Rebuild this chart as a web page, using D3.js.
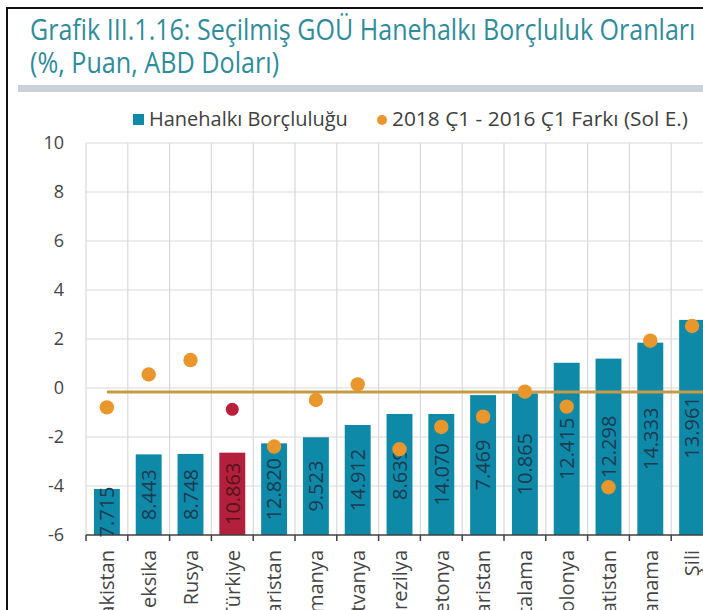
<!DOCTYPE html>
<html>
<head>
<meta charset="utf-8">
<script src="https://cdn.jsdelivr.net/npm/d3@7"></script>
<style>
  body { margin: 0; background: #fff; }
  svg { display: block; font-family: "Open Sans", sans-serif; }
</style>
</head>
<body>
<div id="chart"></div>
<script>
// Categories (country names, cut off at the bottom in the original)
const countries = ["Pakistan", "Meksika", "Rusya", "Türkiye", "Bulgaristan", "Romanya", "Litvanya",
    "Brezilya", "Letonya", "Macaristan", "Ortalama", "Polonya", "Hırvatistan", "Panama", "Şili"];

// Bar tops
const borcluluk = [-4.12, -2.71, -2.69, -2.64, -2.26, -2.01, -1.51, -1.06, -1.06, -0.29, -0.22, 1.03, 1.2, 1.85, 2.78];

// Labels written inside the bars
const barLabels = ["7.715", "8.443", "8.748", "10.863", "12.820", "9.523", "14.912", "8.639",
    "14.070", "7.469", "10.865", "12.415", "12.298", "14.333", "13.961"];

// 2018 Q1 - 2016 Q1 difference (dots)
const fark = [-0.79, 0.55, 1.14, -0.87, -2.39, -0.49, 0.15, -2.5, -1.59, -1.17, -0.15, -0.76, -4.05, 1.93, 2.53];

// Average line level
const ortalamaLine = -0.16;

const yTicks = [10, 8, 6, 4, 2, 0, -2, -4, -6];

const width = 703;
const height = 610;

const svg = d3.select("#chart").append("svg")
    .attr("width", width)
    .attr("height", height);

// fit a text to a given width by changing its font size
function fitText(sel, target) {
    const w = sel.node().getComputedTextLength();
    const fs = parseFloat(sel.style("font-size"));
    sel.style("font-size", (fs * target / w) + "px");
}

// frame lines
svg.append("line").attr("x1", 6).attr("x2", width).attr("y1", 8).attr("y2", 8)
    .attr("stroke", "#111").attr("stroke-width", 2);
svg.append("line").attr("x1", 7).attr("x2", 7).attr("y1", 8).attr("y2", height)
    .attr("stroke", "#111").attr("stroke-width", 2);

// title (the original picture is a bit stretched vertically)
const t1 = svg.append("text").attr("transform", "translate(30,40) scale(1,1.15)")
    .style("font-size", "22px").style("fill", "#2f8c9b")
    .text("Grafik III.1.16: Seçilmiş GOÜ Hanehalkı Borçluluk Oranları");
fitText(t1, 665);
const t2 = svg.append("text").attr("transform", "translate(30,73) scale(1,1.15)")
    .style("font-size", "22px").style("fill", "#2f8c9b")
    .text("(%, Puan, ABD Doları)");
fitText(t2, 249);

svg.append("rect").attr("x", 18).attr("y", 85).attr("width", width - 18).attr("height", 7)
    .style("fill", "#c9d0d7");

// scales
const x = d3.scaleBand()
    .domain(countries)
    .range([86, 713])
    .padding(0);

const y = d3.scaleLinear()
    .domain([-6, 10])
    .range([535, 143]);

const bw = x.bandwidth();

// gridlines
svg.append("g").selectAll("line")
    .data(yTicks.filter(d => d > -6))
    .enter().append("line")
    .attr("x1", 86).attr("x2", width)
    .attr("y1", d => y(d)).attr("y2", d => y(d))
    .attr("stroke", "#d9d9d9").attr("stroke-width", 1.2);

svg.append("g").selectAll("line")
    .data(countries)
    .enter().append("line")
    .attr("x1", d => x(d)).attr("x2", d => x(d))
    .attr("y1", y(10)).attr("y2", y(-6))
    .attr("stroke", "#d9d9d9").attr("stroke-width", 1.2);

// y tick labels
svg.append("g").selectAll("text")
    .data(yTicks)
    .enter().append("text")
    .attr("x", 64)
    .attr("y", d => y(d))
    .attr("dy", "0.36em")
    .attr("text-anchor", "end")
    .style("font-size", "18px")
    .style("fill", "#454545")
    .text(d => d);

// bars
svg.append("g").selectAll("rect")
    .data(countries)
    .enter().append("rect")
    .attr("x", d => x(d) + bw * 0.19)
    .attr("width", bw * 0.62)
    .attr("y", (d, i) => y(borcluluk[i]))
    .attr("height", (d, i) => y(-6) - y(borcluluk[i]))
    .style("fill", d => d === "Türkiye" ? "#b2203b" : "#0f89a8");

// labels inside bars
svg.append("g").selectAll("text")
    .data(countries)
    .enter().append("text")
    .attr("transform", (d, i) => "translate(" + (x(d) + bw / 2) + "," + ((y(borcluluk[i]) + y(-6)) / 2) + ") rotate(-90)")
    .attr("dy", "0.36em")
    .attr("text-anchor", "middle")
    .style("font-size", "20px")
    .style("fill", d => d === "Türkiye" ? "#5a1020" : "#1c3a50")
    .text((d, i) => barLabels[i]);

// average line
svg.append("line")
    .attr("x1", x("Pakistan") + bw / 2).attr("x2", width)
    .attr("y1", y(ortalamaLine)).attr("y2", y(ortalamaLine))
    .attr("stroke", "#c99a45").attr("stroke-width", 3);

// dots
svg.append("g").selectAll("circle")
    .data(countries)
    .enter().append("circle")
    .attr("cx", d => x(d) + bw / 2)
    .attr("cy", (d, i) => y(fark[i]))
    .attr("r", d => d === "Türkiye" ? 6.5 : 7.2)
    .style("fill", d => d === "Türkiye" ? "#b8203a" : "#e9972c");

// x axis
const xAxis = svg.append("g");
xAxis.append("line")
    .attr("x1", 86).attr("x2", width)
    .attr("y1", y(-6)).attr("y2", y(-6))
    .attr("stroke", "#404040").attr("stroke-width", 1.5);
xAxis.selectAll(".tick")
    .data(countries)
    .enter().append("line")
    .attr("x1", d => x(d)).attr("x2", d => x(d))
    .attr("y1", y(-6)).attr("y2", y(-6) + 6)
    .attr("stroke", "#404040").attr("stroke-width", 1.5);
// the names run past the bottom edge, as in the original crop
xAxis.selectAll("text")
    .data(countries)
    .enter().append("text")
    .attr("transform", d => "translate(" + (x(d) + bw / 2) + "," + 550 + ") rotate(-90)")
    .attr("dy", "0.36em")
    .attr("text-anchor", "end")
    .style("font-size", "20px")
    .style("fill", "#454545")
    .text(d => d);

// legend
const legend = svg.append("g");
legend.append("rect").attr("x", 133).attr("y", 114).attr("width", 11).attr("height", 11)
    .style("fill", "#0f89a8");
const l1 = legend.append("text").attr("x", 149).attr("y", 126)
    .style("font-size", "16px").style("fill", "#404040")
    .text("Hanehalkı Borçluluğu");
fitText(l1, 199);
legend.append("circle").attr("cx", 382).attr("cy", 120).attr("r", 5)
    .style("fill", "#e9972c");
const l2 = legend.append("text").attr("x", 392).attr("y", 126)
    .style("font-size", "16px").style("fill", "#404040")
    .text("2018 Ç1 - 2016 Ç1 Farkı (Sol E.)");
fitText(l2, 296);
</script>
</body>
</html>
